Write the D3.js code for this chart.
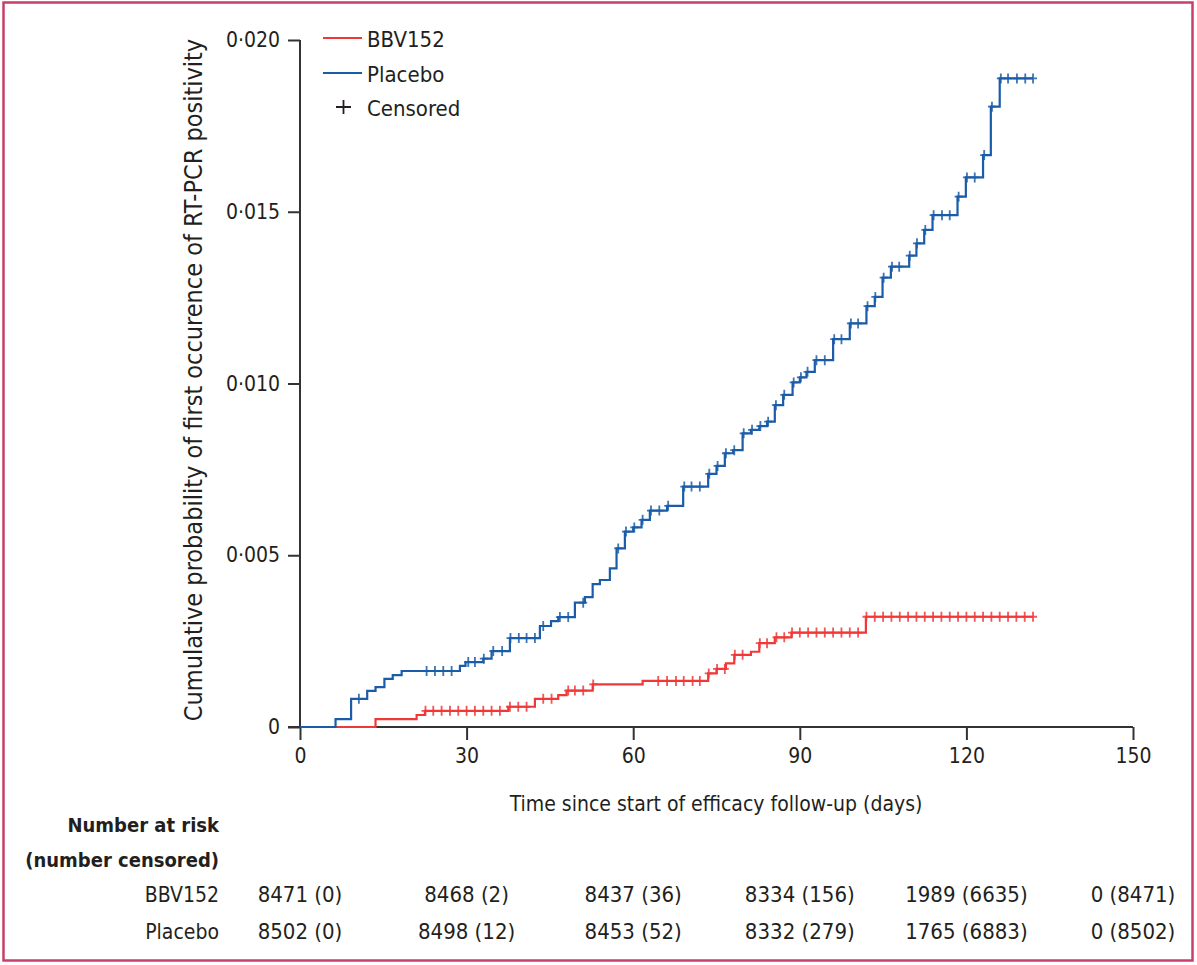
<!DOCTYPE html>
<html lang="en">
<head>
<meta charset="UTF-8">
<title>Cumulative probability of first RT-PCR positivity</title>
<style>
  body { margin: 0; background: #fff; }
  svg text { font-family: "Liberation Sans Narrow", "DejaVu Sans Condensed", "Open Sans", sans-serif; fill: #231f20; }
</style>
</head>
<body>
<script src="https://d3js.org/d3.v7.min.js"></script>
<script>
// step times (days) and cumulative probability after each step
const placeboDays = [0, 6.4, 9.2, 12.1, 13.6, 15.2, 16.7, 18.3, 28.8, 29.8, 33.0, 34.5, 37.8, 43.2, 45.2, 46.5, 49.5, 51.3,
  52.7, 54.0, 55.8, 57.0, 58.5, 60.0, 61.5, 63.0, 66.1, 69.0, 73.5, 75.0, 76.5, 78.0, 79.7, 81.2, 82.7, 84.1, 85.5, 87.0,
  88.7, 90.0, 91.2, 92.7, 96.0, 99.0, 102.0, 103.5, 104.9, 106.4, 109.7, 111.0, 112.4, 113.9, 118.4, 119.9, 123.0, 124.4, 126.0];
const placeboCum = [0, 0.00023, 0.00082, 0.00105, 0.00116, 0.00140, 0.00151, 0.00163, 0.00178, 0.00189, 0.00199, 0.00221,
  0.00259, 0.00294, 0.00308, 0.00320, 0.00362, 0.00378, 0.00416, 0.00428, 0.00462, 0.00520, 0.00569, 0.00581, 0.00603,
  0.00630, 0.00644, 0.00700, 0.00737, 0.00760, 0.00797, 0.00806, 0.00855, 0.00865, 0.00876, 0.00889, 0.00937, 0.00967,
  0.01003, 0.01018, 0.01034, 0.01068, 0.01129, 0.01175, 0.01225, 0.01252, 0.01308, 0.01340, 0.01372, 0.01408, 0.01447,
  0.01490, 0.01544, 0.01600, 0.01665, 0.01806, 0.01888];
const placeboCensor = [10.6, 22.8, 24.3, 25.8, 27.3, 30.3, 31.5, 33.1, 34.8, 36.4, 37.9, 39.4, 40.8, 42.3, 43.8, 46.8, 48.3,
  51.0, 57.3, 58.7, 60.2, 61.7, 63.2, 64.7, 66.3, 69.2, 70.5, 72.0, 73.7, 75.2, 76.7, 78.2, 79.9, 81.4, 82.9, 84.3, 85.7,
  87.2, 88.9, 90.2, 91.4, 93.0, 94.5, 96.2, 97.5, 99.2, 100.5, 102.2, 103.6, 105.1, 106.6, 107.9, 109.8, 111.1, 112.6,
  114.1, 115.6, 117.0, 118.6, 120.1, 121.5, 123.2, 124.6, 126.2, 127.5, 129.1, 130.6, 132.0];

const bbvDays = [0, 13.6, 21.0, 22.5, 37.5, 42.3, 46.5, 48.0, 52.7, 61.7, 73.5, 75.0, 76.7, 78.2, 81.2, 82.7, 85.5, 88.5, 101.9];
const bbvCum = [0, 0.00023, 0.00035, 0.00047, 0.00059, 0.00082, 0.00093, 0.00106, 0.00124, 0.00134, 0.00156, 0.00169,
  0.00185, 0.00210, 0.00219, 0.00244, 0.00261, 0.00275, 0.00321];
const bbvCensor = [22.6, 24.0, 25.5, 27.0, 28.5, 30.0, 31.5, 33.0, 34.5, 36.0, 37.8, 39.3, 40.8, 43.8, 45.3, 48.3, 49.5,
  51.0, 52.8, 64.5, 66.1, 67.7, 69.1, 70.7, 72.0, 73.6, 75.1, 76.5, 78.3, 79.7, 82.8, 84.1, 85.8, 87.2, 88.6, 90.0, 91.5,
  93.0, 94.5, 96.0, 97.5, 99.0, 100.5, 102.0, 103.5, 105.0, 106.5, 108.0, 109.5, 111.0, 112.5, 114.0, 115.5, 117.0, 118.5,
  120.0, 121.5, 123.0, 124.5, 126.0, 127.5, 129.0, 130.5, 132.0];
const lastDay = 132;

const xTicks = [0, 30, 60, 90, 120, 150];
const yTicks = [0, 0.005, 0.010, 0.015, 0.020];
const yTickLabels = ['0', '0·005', '0·010', '0·015', '0·020'];

const riskGroups = ['BBV152', 'Placebo'];
const bbvAtRisk = ['8471 (0)', '8468 (2)', '8437 (36)', '8334 (156)', '1989 (6635)', '0 (8471)'];
const placeboAtRisk = ['8502 (0)', '8498 (12)', '8453 (52)', '8332 (279)', '1765 (6883)', '0 (8502)'];

const red = '#f03838', blue = '#1b5ca8';

const svg = d3.select('body').append('svg')
  .attr('width', 1197)
  .attr('height', 965);

// frame
svg.append('rect')
  .attr('x', 3.5).attr('y', 2.5)
  .attr('width', 1189).attr('height', 958)
  .attr('fill', 'none')
  .attr('stroke', '#c8406a')
  .attr('stroke-width', 2.5);

const x = d3.scaleLinear().domain([0, 150]).range([300, 1133]);
const y = d3.scaleLinear().domain([0, 0.020]).range([727, 40]);

// axes
const yAxis = svg.append('g')
  .attr('transform', 'translate(300,0)')
  .call(d3.axisLeft(y).tickValues(yTicks).tickFormat((d, i) => yTickLabels[i]).tickSize(12).tickPadding(8));
const xAxis = svg.append('g')
  .attr('transform', 'translate(0,727)')
  .call(d3.axisBottom(x).tickValues(xTicks).tickSize(13).tickPadding(8));

[xAxis, yAxis].forEach(g => {
  g.select('.domain').attr('stroke', '#333').attr('stroke-width', 2);
  g.selectAll('.tick line').attr('stroke', '#333').attr('stroke-width', 2);
  g.selectAll('.tick text').attr('font-size', 21).attr('fill', '#231f20')
    .style('font-family', '"Liberation Sans Narrow", "DejaVu Sans Condensed", sans-serif');
});
yAxis.select('.domain').attr('d', 'M0,' + y(0.020) + 'V' + y(0));
xAxis.select('.domain').attr('d', 'M' + (x(0) - 12) + ',0H' + x(150));

// step curves
function stepPoints(days, cum) {
  const pts = days.map((d, i) => [d, cum[i]]);
  pts.push([lastDay, cum[cum.length - 1]]);
  return pts;
}
function valueAt(days, cum, t) {
  let v = 0;
  days.forEach((d, i) => { if (d <= t) v = cum[i]; });
  return v;
}
const line = d3.line().x(d => x(d[0])).y(d => y(d[1])).curve(d3.curveStepAfter);

const series = [
  { days: bbvDays, cum: bbvCum, censor: bbvCensor, color: red },
  { days: placeboDays, cum: placeboCum, censor: placeboCensor, color: blue }
];

series.forEach(s => {
  svg.append('path')
    .datum(stepPoints(s.days, s.cum))
    .attr('d', line)
    .attr('fill', 'none')
    .attr('stroke', s.color)
    .attr('stroke-width', 2.2);

  svg.append('g').selectAll('path')
    .data(s.censor)
    .join('path')
    .attr('d', d => {
      const cx = x(d), cy = y(valueAt(s.days, s.cum, d));
      return 'M' + (cx - 4) + ',' + cy + 'H' + (cx + 4) + 'M' + cx + ',' + (cy - 5) + 'V' + (cy + 5);
    })
    .attr('stroke', s.color)
    .attr('stroke-width', 1.8)
    .attr('opacity', 0.85);
});

// legend
const legend = svg.append('g');
const legendItems = [
  { label: 'BBV152', color: red, y: 38 },
  { label: 'Placebo', color: blue, y: 73 }
];
legendItems.forEach(l => {
  legend.append('line')
    .attr('x1', 323).attr('x2', 362).attr('y1', l.y).attr('y2', l.y)
    .attr('stroke', l.color).attr('stroke-width', 2);
  legend.append('text')
    .attr('x', 367).attr('y', l.y + 9)
    .attr('font-size', 22)
    .text(l.label);
});
legend.append('path')
  .attr('d', 'M336,107H351M343.5,100V114')
  .attr('stroke', '#231f20').attr('stroke-width', 1.8);
legend.append('text')
  .attr('x', 367).attr('y', 116)
  .attr('font-size', 22)
  .text('Censored');

// axis titles
svg.append('text')
  .attr('transform', 'translate(202,380) rotate(-90)')
  .attr('text-anchor', 'middle')
  .attr('font-size', 25)
  .text('Cumulative probability of first occurence of RT-PCR positivity');

svg.append('text')
  .attr('x', 716).attr('y', 811)
  .attr('text-anchor', 'middle')
  .attr('font-size', 21)
  .text('Time since start of efficacy follow-up (days)');

// number at risk table
svg.append('text')
  .attr('x', 219).attr('y', 832)
  .attr('text-anchor', 'end')
  .attr('font-size', 20)
  .attr('font-weight', 'bold')
  .text('Number at risk');
svg.append('text')
  .attr('x', 219).attr('y', 867)
  .attr('text-anchor', 'end')
  .attr('font-size', 20)
  .attr('font-weight', 'bold')
  .text('(number censored)');

const riskRows = [bbvAtRisk, placeboAtRisk];
const rowY = [902, 939];
riskRows.forEach((row, r) => {
  svg.append('text')
    .attr('x', 219).attr('y', rowY[r])
    .attr('text-anchor', 'end')
    .attr('font-size', 21)
    .text(riskGroups[r]);
  svg.append('g').selectAll('text')
    .data(row)
    .join('text')
    .attr('x', (d, i) => x(xTicks[i]))
    .attr('y', rowY[r])
    .attr('text-anchor', 'middle')
    .attr('font-size', 22)
    .text(d => d);
});
</script>
</body>
</html>
